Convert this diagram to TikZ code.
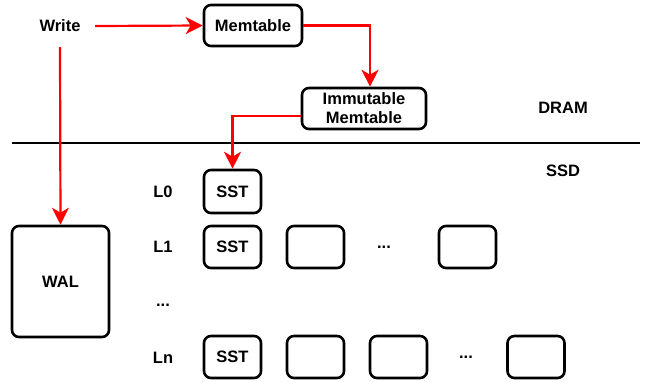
\documentclass[tikz,border=0pt]{standalone}
\usepackage{fontspec}
\setmainfont{Liberation Sans}
\usetikzlibrary{arrows.meta}
\begin{document}
\begin{tikzpicture}[x=1bp,y=-1bp,
		font=\fontsize{16.5bp}{19bp}\selectfont\bfseries,
		box/.style={draw,line width=2.6bp,rounded corners=7bp,inner sep=0pt,align=center},
		flow/.style={draw=red,line width=2.2bp,-{Stealth[length=17bp,width=17bp,inset=5bp]}},
		plain/.style={inner sep=0pt}]
		\useasboundingbox (0,0) rectangle (650,381);
		% memory side
		\node[plain,minimum width=70bp,minimum height=42bp](write) at (60,26){Write};
		\node[box,minimum width=98bp,minimum height=41bp](mem) at (253,25.5){Memtable};
		\node[box,minimum width=124bp,minimum height=41bp](imm) at (364,108.5){Immutable\\Memtable};
		\node[plain](dram) at (563,108){DRAM};
		\node[plain](ssd) at (563,171){SSD};
		\coordinate (sepl) at (12,143);
		\coordinate (sepr) at (640,143);
		\draw[line width=2.6bp] (sepl) -- (sepr);
		% disk side
		\node[box,minimum width=97bp,minimum height=111bp](wal) at (60.5,281.5){WAL};
		\node[plain](l0) at (163,192){L0};
		\node[plain](l1) at (163,247){L1};
		\node[plain](ldots) at (163,305){...};
		\node[plain](ln) at (163,358){Ln};
		\node[box,minimum width=57bp,minimum height=43bp](sst0) at (232.5,191.5){SST};
		\node[box,minimum width=57bp,minimum height=42bp](sst1) at (232.5,247){SST};
		\node[box,minimum width=57bp,minimum height=42bp](l1a) at (315.5,247){};
		\node[plain](l1dots) at (384,247){...};
		\node[box,minimum width=57bp,minimum height=42bp](l1b) at (467.5,247){};
		\node[box,minimum width=57bp,minimum height=42bp](sstn) at (232.5,357){SST};
		\node[box,minimum width=57bp,minimum height=42bp](lna) at (315.5,357){};
		\node[box,minimum width=57bp,minimum height=42bp](lnb) at (398.5,357){};
		\node[plain](lndots) at (466,357){...};
		\node[box,minimum width=57bp,minimum height=42bp](lnc) at (536,357){};
		% write path
		\path[flow] (write.east) -- (mem.west);
		\path[flow] (mem.east) -| ([xshift=6bp]imm.north);
		\path[flow] ([yshift=-7.5bp]imm.west) -| (sst0.north);
		\path[flow] (write.south) -- (wal.north);
\end{tikzpicture}
\end{document}
